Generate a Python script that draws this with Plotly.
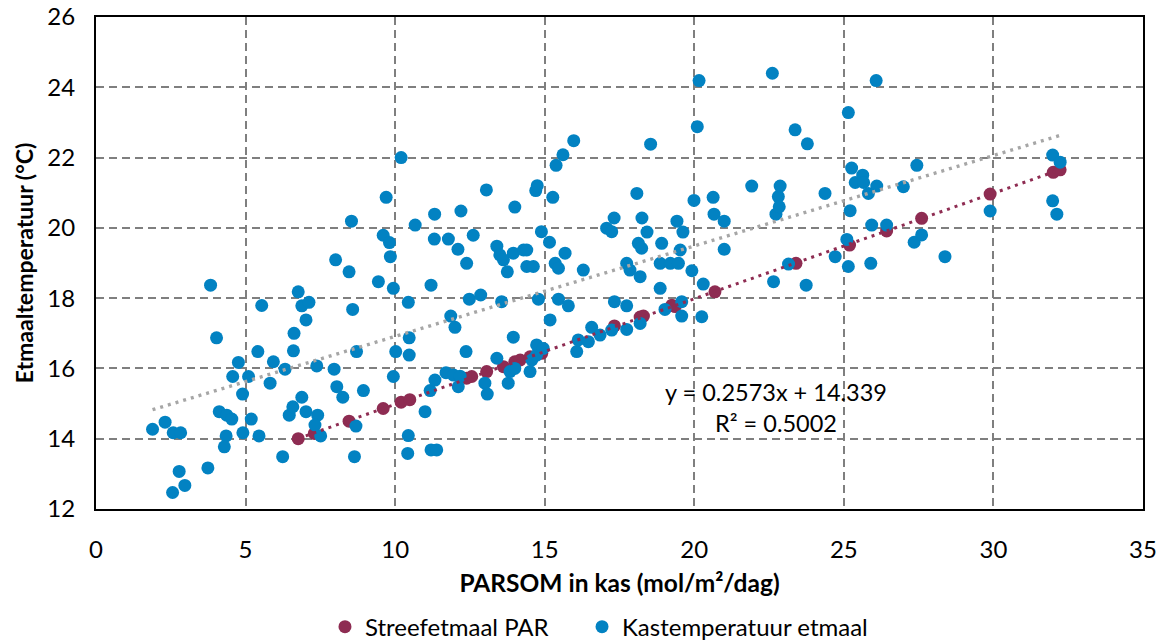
import numpy as np
import plotly.graph_objects as go

# Streefetmaal PAR: target day temperature per PAR sum
streef_par = [6.76, 7.3, 8.46, 9.6, 10.2, 10.49, 12.39, 12.56, 13.06, 13.62, 14.0, 14.18,
              14.51, 14.9, 17.33, 18.19, 18.3, 19.25, 19.36, 20.69, 23.4, 25.19, 26.43,
              27.6, 29.89, 32.0, 32.23]
streef_temp = [14.0, 14.15, 14.5, 14.86, 15.04, 15.11, 15.72, 15.77, 15.91, 16.05, 16.19, 16.24,
               16.33, 16.43, 17.21, 17.46, 17.49, 17.8, 17.76, 18.18, 18.99, 19.51, 19.91,
               20.27, 20.96, 21.58, 21.65]

# Kastemperatuur etmaal: measured greenhouse day temperature
kas_par = [
    1.89, 2.31, 2.58, 2.83, 2.78, 2.97, 2.56, 3.74, 3.83, 4.03, 4.12, 4.37, 4.54, 4.35, 4.29,
    4.91, 5.45, 5.19, 4.57, 5.1, 4.76, 4.9, 5.41, 5.54, 5.82, 5.93,
    6.24, 6.32, 6.46, 6.58, 6.6, 6.62, 6.76, 6.88, 7.12, 7.02, 6.88, 7.02, 7.41, 7.32, 7.51,
    7.38, 7.96,
    8.01, 8.05, 8.25, 8.46, 8.54, 8.58, 8.64, 8.69, 8.71, 8.94, 9.44, 9.6, 9.7, 9.81, 9.84,
    9.94, 9.94, 10.02,
    10.2, 10.44, 10.47, 10.47, 10.44, 10.42, 10.67, 11.0, 11.17, 11.2, 11.39, 11.2, 11.33,
    11.32, 11.31, 11.7, 11.78, 11.86, 11.95, 12.0, 12.1, 12.17, 12.11, 12.2,
    12.37, 12.39, 12.48, 12.61, 12.86, 13.0, 13.05, 13.08, 13.4, 13.4, 13.5, 13.62, 13.75,
    13.56, 13.78, 13.84, 13.95, 13.95, 14.0, 14.0,
    14.29, 14.4, 14.4, 14.62, 14.51, 14.57, 14.73, 14.73, 14.95, 14.7, 14.75, 14.79, 14.89,
    15.16, 15.18, 15.27, 15.35, 15.46, 15.38, 15.46, 15.61, 15.68, 15.79, 15.97,
    16.07, 16.12, 16.29, 16.46, 16.57, 16.85, 17.07, 17.24, 17.24, 17.32, 17.33, 17.74,
    17.74, 17.74, 17.85, 18.08,
    18.19, 18.13, 18.24, 18.19, 18.25, 18.42, 18.54, 18.86, 18.86, 18.91, 19.02, 19.2,
    19.42, 19.47, 19.53, 19.58, 19.58, 19.62, 19.92, 19.99,
    20.1, 20.16, 20.25, 20.3, 20.63, 20.66, 21.0, 21.0, 21.92,
    22.61, 22.65, 22.73, 22.81, 22.84, 22.87, 23.15, 23.37, 23.74, 23.78,
    24.37, 24.71, 25.1, 25.15, 25.15, 25.21, 25.26, 25.38, 25.63, 25.66, 25.82, 25.9, 25.93,
    26.08, 26.1, 26.43,
    26.99, 27.35, 27.44, 27.6, 28.38, 29.89, 31.98, 32.23, 31.98, 32.12,
]
kas_temp = [
    14.27, 14.47, 14.17, 14.17, 13.07, 12.67, 12.47, 13.17, 18.37, 16.87, 14.77, 14.67, 14.56,
    14.08, 13.77, 14.17, 14.08, 14.56, 15.77, 15.77, 16.17, 15.27, 16.48, 17.79, 15.58, 16.19,
    13.49, 15.98, 14.67, 14.91, 16.5, 17.0, 18.18, 17.78, 17.88, 17.38, 15.18, 14.77, 14.67,
    14.39, 14.08, 16.07, 15.98,
    19.09, 15.48, 15.18, 18.75, 20.19, 17.68, 13.49, 14.36, 16.48, 15.37, 18.47, 19.79, 20.87,
    19.58, 19.18, 18.28, 15.77, 16.48,
    22.0, 17.88, 16.87, 16.38, 14.09, 13.58, 20.08, 14.77, 15.37, 13.68, 13.68, 18.37, 15.67,
    20.39, 19.68, 15.88, 19.68, 17.49, 15.81, 17.17, 19.39, 15.78, 15.48, 20.48,
    16.48, 18.99, 17.97, 19.79, 18.09, 15.58, 21.08, 15.27, 16.29, 19.48, 19.23, 19.09, 18.75,
    17.9, 15.58, 15.91, 16.89, 19.28, 16.0, 20.59,
    19.37, 19.37, 18.9, 18.9, 15.91, 16.24, 16.38, 16.67, 16.57, 21.06, 21.2, 17.97, 19.89,
    19.59, 17.38, 20.87, 18.99, 18.85, 21.78, 17.97, 22.08, 19.28, 17.78, 22.48,
    16.48, 16.81, 18.8, 16.76, 17.17, 16.95, 19.99, 19.89, 17.09, 20.28, 17.9, 17.78,
    18.99, 17.11, 18.8, 20.98,
    18.61, 19.56, 19.42, 17.28, 20.28, 19.88, 22.38, 18.99, 18.28, 19.56, 17.68, 18.99,
    20.19, 18.99, 19.37, 17.9, 17.49, 19.88, 18.78, 20.78,
    22.88, 24.19, 17.47, 18.4, 20.87, 20.39, 19.39, 20.19, 21.19,
    24.4, 18.47, 20.39, 20.89, 20.6, 21.19, 18.97, 22.79, 18.37, 22.39,
    20.98, 19.18, 19.67, 23.28, 18.9, 20.49, 21.7, 21.29, 21.5, 21.29, 20.98, 18.99, 20.08,
    24.19, 21.19, 20.08,
    21.17, 19.59, 21.78, 19.8, 19.18, 20.48, 22.07, 21.87, 20.77, 20.39,
]

# Linear trendline shown for the measured series
trend_slope = 0.2573
trend_intercept = 14.339
trend_r2 = 0.5002

red = "#8E2C52"
blue = "#0282C2"
grey = "#A6A6A6"
font_family = "Lato, 'Open Sans', sans-serif"

kas_x = np.array(kas_par)
trend_x = np.array([kas_x.min(), kas_x.max()])
trend_y = trend_slope * trend_x + trend_intercept

sp_x = np.array(streef_par)
sp_y = np.array(streef_temp)
a, b = np.polyfit(sp_x, sp_y, 1)
sp_line_x = np.array([sp_x.min(), sp_x.max()])
sp_line_y = a * sp_line_x + b

fig = go.Figure()
fig.add_trace(go.Scatter(
    x=streef_par, y=streef_temp, mode="markers", name="Streefetmaal PAR",
    marker=dict(color=red, size=13, line=dict(width=0)), legend="legend",
))
fig.add_trace(go.Scatter(
    x=kas_par, y=kas_temp, mode="markers", name="Kastemperatuur etmaal",
    marker=dict(color=blue, size=13, line=dict(width=0)), legend="legend2",
))
fig.add_trace(go.Scatter(
    x=sp_line_x, y=sp_line_y, mode="lines", showlegend=False, hoverinfo="skip",
    line=dict(color=red, width=3, dash="3px,5px"),
))
fig.add_trace(go.Scatter(
    x=trend_x, y=trend_y, mode="lines", showlegend=False, hoverinfo="skip",
    line=dict(color=grey, width=3.4, dash="3px,5px"),
))

fig.add_annotation(
    x=22.73, y=14.9, xref="x", yref="y", showarrow=False,
    text=f"y = {trend_slope}x + {trend_intercept}<br>R² = {trend_r2}",
    font=dict(family=font_family, size=23.5, color="#000000"),
    align="center",
)

axis_common = dict(
    showline=True, linecolor="#000000", linewidth=2, mirror=True,
    showgrid=True, gridcolor="#7F7F7F", gridwidth=1.5, griddash="8px,5px",
    zeroline=False, ticks="",
    tickfont=dict(family=font_family, size=24, color="#000000"),
)

fig.update_xaxes(
    range=[0, 35], tick0=0, dtick=5, ticklabelstandoff=18,
    title=dict(text="<b>PARSOM in kas (mol/m²/dag)</b>",
               font=dict(family=font_family, size=24.5, color="#000000"), standoff=13),
    **axis_common,
)
fig.update_yaxes(
    range=[12, 26], tick0=12, dtick=2, ticklabelstandoff=14,
    title=dict(text="<b>Etmaaltemperatuur (°C)</b>",
               font=dict(family=font_family, size=23, color="#000000"), standoff=7),
    **axis_common,
)

legend_style = dict(
    orientation="h", y=-0.24, yanchor="middle", xanchor="left",
    font=dict(family=font_family, size=24, color="#000000"),
    itemwidth=30, bgcolor="rgba(0,0,0,0)",
)

fig.update_layout(
    width=1162, height=642,
    margin=dict(l=96, r=19, t=17, b=133, autoexpand=False),
    paper_bgcolor="#FFFFFF", plot_bgcolor="#FFFFFF",
    showlegend=True,
    legend=dict(x=0.2187, **legend_style),
    legend2=dict(x=0.4642, **legend_style),
)

fig.write_html("out.html")
